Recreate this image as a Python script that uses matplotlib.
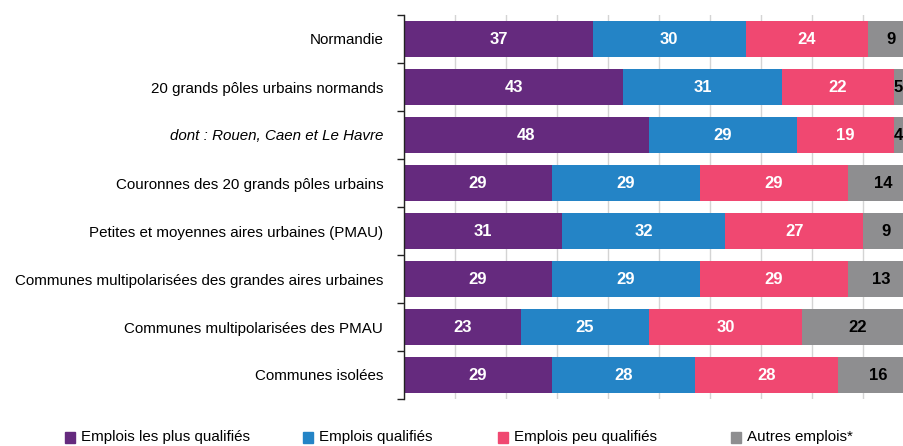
import numpy as np
import matplotlib
matplotlib.use("Agg")
from matplotlib import pyplot as plt
from matplotlib.patches import Rectangle

categories = [
    "Normandie",
    "20 grands pôles urbains normands",
    "dont : Rouen, Caen et Le Havre",
    "Couronnes des 20 grands pôles urbains",
    "Petites et moyennes aires urbaines (PMAU)",
    "Communes multipolarisées des grandes aires urbaines",
    "Communes multipolarisées des PMAU",
    "Communes isolées",
]
plus_qualifies = [37, 43, 48, 29, 31, 29, 23, 29]
qualifies = [30, 31, 29, 29, 32, 29, 25, 28]
peu_qualifies = [24, 22, 19, 29, 27, 29, 30, 28]
autres = [9, 5, 4, 14, 9, 13, 22, 16]

series_names = ["Emplois les plus qualifiés", "Emplois qualifiés",
                "Emplois peu qualifiés", "Autres emplois*"]
colors = ["#652a7e", "#2484c6", "#f04871", "#8e8e90"]
label_colors = ["white", "white", "white", "black"]

label_font = ["Liberation Sans", "DejaVu Sans"]
num_font = ["Liberation Sans Narrow", "Liberation Sans", "DejaVu Sans"]

XMAX = 98

fig = plt.figure(figsize=(9.04, 4.46), dpi=100)
ax = fig.add_axes([404 / 904, 1 - 399 / 446, 1 - 404 / 904, 384 / 446])

y = np.arange(len(categories))
data = [plus_qualifies, qualifies, peu_qualifies, autres]
left = np.zeros(len(categories))
for vals, col, tcol in zip(data, colors, label_colors):
    vals = np.array(vals, dtype=float)
    ax.barh(y, vals, left=left, height=0.77, color=col, zorder=2)
    for yi, (l, v) in enumerate(zip(left, vals)):
        xc, ha = l + v / 2, "center"
        # segments running off the right edge: keep the number inside the picture
        if xc > XMAX - 1.4:
            xc, ha = XMAX - 0.2, "right"
        ax.text(xc, yi, f"{v:.0f}", ha=ha, va="center",
                color=tcol, fontsize=12, fontweight="bold", family=num_font,
                zorder=3)
    left += vals

ax.set_xlim(0, XMAX)
ax.set_ylim(len(categories) - 0.5, -0.5)

# vertical grid every 10
ax.set_xticks(np.arange(0, 100, 10))
ax.xaxis.grid(True, color="#d4d4d4", lw=1, zorder=0)
ax.tick_params(axis="x", length=0, labelbottom=False)

ax.set_yticks(y)
ax.set_yticks(np.arange(-0.5, len(categories), 1), minor=True)
ax.set_yticklabels(categories, family=label_font, fontsize=10.9)
ax.tick_params(axis="y", which="major", length=0, pad=15)
ax.tick_params(axis="y", which="minor", length=5, width=1, color="#222222")
ax.get_yticklabels()[2].set_style("italic")

for s in ["top", "right", "bottom"]:
    ax.spines[s].set_visible(False)
ax.spines["left"].set_color("#222222")
ax.spines["left"].set_linewidth(1)

# legend along the bottom edge
leg_x = [65, 303, 498, 731]
for xpx, name, col in zip(leg_x, series_names, colors):
    fig.patches.append(Rectangle((xpx / 904, (446 - 443) / 446), 10 / 904, 11 / 446,
                                 transform=fig.transFigure, color=col))
    fig.text((xpx + 16) / 904, (446 - 437.5) / 446, name, va="center", ha="left",
             family=label_font, fontsize=10.9)

fig.savefig("out.png", dpi=100)
